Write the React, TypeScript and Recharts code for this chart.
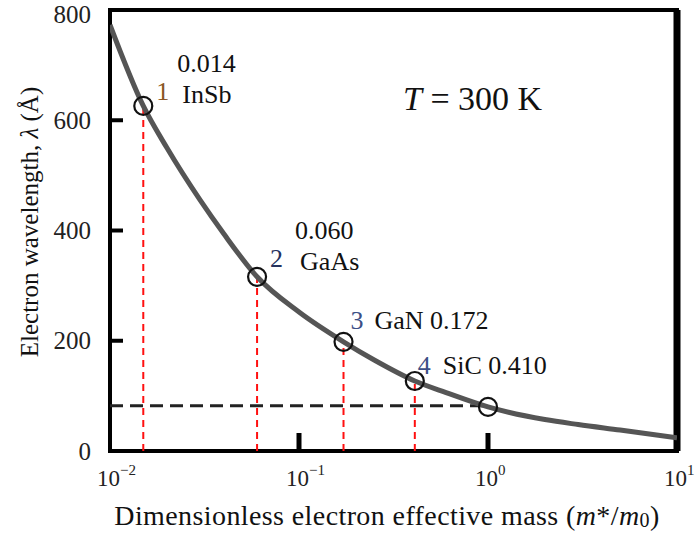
import React from 'react';
import {
  ComposedChart,
  Line,
  Scatter,
  XAxis,
  YAxis,
  ReferenceLine,
  ReferenceArea,
} from 'recharts';

// curve (log x)
const curveMass = [0.01, 0.015, 0.02, 0.03, 0.04, 0.06, 0.1, 0.172, 0.25, 0.41, 0.6, 1, 2, 3, 5, 10];
const curveLambda = [773, 626, 550, 455, 394, 316, 252, 198, 165, 127, 106, 80, 57, 48, 38, 24];

// marked materials
const markMass = [0.015, 0.06, 0.172, 0.41, 1];
const markLambda = [626, 316, 198, 127, 80];
const markIndex = ['1', '2', '3', '4', ''];
const markName = ['InSb', 'GaAs', 'GaN', 'SiC', ''];
const markValue = ['0.014', '0.060', '0.172', '0.410', ''];

const thresholdLambda = 82;

const xTicks = [0.01, 0.1, 1, 10];
const yTicks = [0, 200, 400, 600, 800];

const curveData = curveMass.map((m, i) => ({ mass: m, lambda: curveLambda[i] }));
const markData = markMass.map((m, i) => ({
  mass: m,
  lambda: markLambda[i],
  idx: markIndex[i],
  name: markName[i],
  value: markValue[i],
}));

const FONT = "'Liberation Serif', 'Times New Roman', serif";
const W = 699;
const H = 534;
const PL = 110;
const PB = 451;

// where the annotation texts sit relative to each marker
const labelLayout = [
  { idx: [13, -14], name: [39, -11], value: [34, -42] },
  { idx: [13, -18], name: [43, -15], value: [38, -46] },
  { idx: [7, -21], name: [31, -21], value: null },
  { idx: [3, -15], name: [28, -15], value: null },
  null,
];
const idxColor = ['#8a5524', '#26325e', '#3c4f86', '#3c4f86', '#000'];

function Marker(props: any) {
  const { cx, cy, index } = props;
  const p = markData[index];
  const lay = labelLayout[index];
  const txt = { fontFamily: FONT, fontSize: 26, dominantBaseline: 'central' as const };
  return (
    <g>
      <circle cx={cx} cy={cy} r={9} fill="none" stroke="#111" strokeWidth={2.2} />
      {lay && (
        <g>
          <text x={cx + lay.idx[0]} y={cy + lay.idx[1]} fill={idxColor[index]} {...txt}>{p.idx}</text>
          <text x={cx + lay.name[0]} y={cy + lay.name[1]} fill="#111" {...txt}>
            {lay.value ? p.name : `${p.name} ${p.value}`}
          </text>
          {lay.value && (
            <text x={cx + lay.value[0]} y={cy + lay.value[1]} fill="#111" {...txt}>{p.value}</text>
          )}
        </g>
      )}
    </g>
  );
}

function YTick(props: any) {
  const { y, payload } = props;
  const v = payload.value;
  return (
    <g>
      <text
        x={PL - 19}
        y={Math.max(y, 14)}
        textAnchor="end"
        dominantBaseline="central"
        fontFamily={FONT}
        fontSize={25}
        fill="#222"
      >
        {v}
      </text>
      {v > 0 && v < 800 && <line x1={PL} x2={PL + 13} y1={y} y2={y} stroke="#000" strokeWidth={4} />}
    </g>
  );
}

function XTick(props: any) {
  const { x, payload } = props;
  const v = payload.value;
  const e = Math.round(Math.log10(v));
  return (
    <g>
      <text x={x - 13} y={PB + 27} dominantBaseline="central" fontFamily={FONT} fontSize={23} fill="#222">
        10
        <tspan dy={-8} fontSize={15}>{e < 0 ? `\u2212${-e}` : `${e}`}</tspan>
      </text>
      {v > 0.01 && v < 10 && <line x1={x} x2={x} y1={PB} y2={PB - 18} stroke="#000" strokeWidth={5} />}
    </g>
  );
}

function XTitle() {
  return (
    <text
      x={387}
      y={515}
      textAnchor="middle"
      dominantBaseline="central"
      fontFamily={FONT}
      fontSize={28}
      letterSpacing={0.4}
      fill="#111"
    >
      Dimensionless electron effective mass (<tspan fontStyle="italic">m</tspan>*/<tspan fontStyle="italic">m</tspan>
      <tspan dy={5} fontSize={20}>0</tspan>
      <tspan dy={-5}>)</tspan>
    </text>
  );
}

function YTitle() {
  return (
    <text
      x={0}
      y={0}
      transform="translate(29, 222) rotate(-90)"
      textAnchor="middle"
      dominantBaseline="central"
      fontFamily={FONT}
      fontSize={25}
      fill="#111"
    >
      Electron wavelength, <tspan fontStyle="italic">λ</tspan> (Å)
    </text>
  );
}

export default function App() {
  return (
    <div style={{ position: 'absolute', left: 0, top: 0, width: W, height: H, background: '#fff' }}>
      <ComposedChart width={W} height={H} margin={{ top: 10, right: 22, bottom: 0, left: 0 }}>
        <XAxis
          dataKey="mass"
          type="number"
          scale="log"
          domain={[0.01, 10]}
          ticks={xTicks}
          allowDataOverflow
          axisLine={false}
          tickLine={false}
          height={83}
          tick={(p: any) => <XTick {...p} />}
          label={<XTitle />}
        />
        <YAxis
          type="number"
          domain={[0, 800]}
          ticks={yTicks}
          width={110}
          axisLine={false}
          tickLine={false}
          tick={(p: any) => <YTick {...p} />}
          label={<YTitle />}
        />
        <ReferenceArea x1={0.01} x2={10} y1={0} y2={800} fill="none" stroke="#000" strokeWidth={4} />
        <ReferenceLine x={10} stroke="#000" strokeWidth={7} />
        {markData.slice(0, 4).map((p) => (
          <ReferenceLine
            key={p.name}
            segment={[
              { x: p.mass, y: 0 },
              { x: p.mass, y: p.lambda },
            ]}
            stroke="#ff1010"
            strokeWidth={2}
            strokeDasharray="7 5"
          />
        ))}
        <ReferenceLine
          segment={[
            { x: 0.01, y: thresholdLambda },
            { x: 1, y: thresholdLambda },
          ]}
          stroke="#222"
          strokeWidth={3}
          strokeDasharray="13 7"
        />
        <Line
          data={curveData}
          dataKey="lambda"
          type="monotone"
          stroke="#555"
          strokeWidth={5}
          dot={false}
          isAnimationActive={false}
        />
        <Scatter data={markData} dataKey="lambda" shape={(p: any) => <Marker {...p} />} isAnimationActive={false} />
        <text x={403} y={98} dominantBaseline="central" fontFamily={FONT} fontSize={34} fill="#111">
          <tspan fontStyle="italic">T</tspan> = 300 K
        </text>
      </ComposedChart>
    </div>
  );
}
